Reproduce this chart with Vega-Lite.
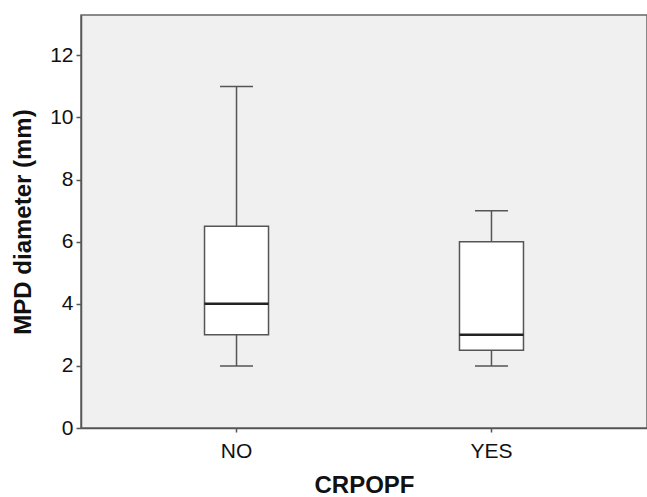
{
  "$schema": "https://vega.github.io/schema/vega-lite/v6.json",
  "width": 566,
  "height": 413,
  "autosize": {"type": "none"},
  "padding": {"left": 81, "top": 15, "right": 0, "bottom": 69},
  "background": "white",
  "config": {
    "view": {"fill": "#f0f0f0", "stroke": "#666666", "strokeWidth": 1.5},
    "axis": {"labelFont": "Liberation Sans", "titleFont": "Liberation Sans", "labelColor": "#111", "titleColor": "#111", "domainColor": "#555", "tickColor": "#555", "domainWidth": 1.5, "tickWidth": 1.5, "grid": false}
  },
  "data": {"values": [
    {"group": "NO", "min": 2, "q1": 3, "median": 4, "q3": 6.5, "max": 11},
    {"group": "YES", "min": 2, "q1": 2.5, "median": 3, "q3": 6, "max": 7}
  ]},
  "encoding": {
    "x": {"field": "group", "type": "nominal", "scale": {"type": "band", "paddingInner": 0, "paddingOuter": 0.11},
      "axis": {"title": "CRPOPF", "labelAngle": 0, "labelFontSize": 21, "titleFontSize": 24, "titleFontWeight": "bold", "tickSize": 4, "labelPadding": 8, "titlePadding": 12}}
  },
  "layer": [
    {"mark": {"type": "rule", "stroke": "#555", "strokeWidth": 1.5},
      "encoding": {
        "y": {"field": "min", "type": "quantitative", "scale": {"domain": [0, 13.3], "nice": false, "zero": true},
          "axis": {"title": "MPD diameter (mm)", "values": [0, 2, 4, 6, 8, 10, 12], "labelFontSize": 21, "titleFontSize": 24, "titleFontWeight": "bold", "tickSize": 5, "labelPadding": 3, "titlePadding": 14}},
        "y2": {"field": "max"}
      }},
    {"mark": {"type": "bar", "size": 64, "fill": "white", "stroke": "#555", "strokeWidth": 1.5},
      "encoding": {"y": {"field": "q1", "type": "quantitative"}, "y2": {"field": "q3"}}},
    {"mark": {"type": "tick", "size": 33, "thickness": 1.5, "color": "#555", "opacity": 1},
      "encoding": {"y": {"field": "min", "type": "quantitative"}}},
    {"mark": {"type": "tick", "size": 33, "thickness": 1.5, "color": "#555", "opacity": 1},
      "encoding": {"y": {"field": "max", "type": "quantitative"}}},
    {"mark": {"type": "tick", "size": 64, "thickness": 2.5, "color": "#222", "opacity": 1},
      "encoding": {"y": {"field": "median", "type": "quantitative"}}}
  ]
}
